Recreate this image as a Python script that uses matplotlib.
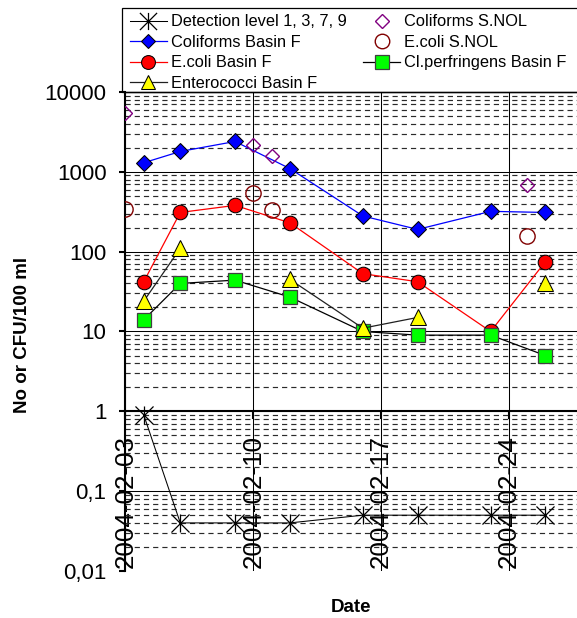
import numpy as np
import matplotlib
matplotlib.use('Agg')
import matplotlib.pyplot as plt
import matplotlib.dates as mdates
from matplotlib.path import Path
from matplotlib.patches import Rectangle
from matplotlib.ticker import FixedLocator, FixedFormatter, LogLocator, NullFormatter

plt.rcParams['font.family'] = ['Liberation Sans', 'DejaVu Sans']

# ---------------- data ----------------
basin_dates = ['2004-02-04', '2004-02-06', '2004-02-09', '2004-02-12',
               '2004-02-16', '2004-02-19', '2004-02-23', '2004-02-26']
detection_level = [0.9, 0.04, 0.04, 0.04, 0.05, 0.05, 0.05, 0.05]
coliforms_basin_f = [1300, 1800, 2400, 1100, 280, 190, 320, 310]
ecoli_basin_f = [42, 310, 380, 230, 53, 42, 10, 75]
enterococci_basin_f = [24, 110, np.nan, 45, 11, 15, np.nan, 40]
clperfringens_basin_f = [14, 40, 44, 27, 10, 9, 9, 5]

snol_dates = ['2004-02-03', '2004-02-10', '2004-02-11', '2004-02-25']
coliforms_snol = [5400, 2200, 1600, 680]
ecoli_snol = [340, 550, 330, 155]

tick_dates = ['2004-02-03', '2004-02-10', '2004-02-17', '2004-02-24']
tick_labels = ['2004-02-03', '2004-02-10', '2004-02-17', '2004-02-24']
ytick_values = [0.01, 0.1, 1, 10, 100, 1000, 10000]
ytick_labels = ['0,01', '0,1', '1', '10', '100', '1000', '10000']

labels = ['Detection level 1, 3, 7, 9', 'Coliforms Basin F', 'E.coli Basin F',
          'Enterococci Basin F', 'Coliforms S.NOL', 'E.coli S.NOL',
          'Cl.perfringens Basin F']

# ---------------- figure ----------------
fig = plt.figure(figsize=(5.77, 6.18), dpi=100)
ax = fig.add_axes([0.2175, 0.0761, 0.7825, 0.775])

xb = mdates.date2num(np.array(basin_dates, dtype='datetime64[D]'))
xs = mdates.date2num(np.array(snol_dates, dtype='datetime64[D]'))
xt = mdates.date2num(np.array(tick_dates, dtype='datetime64[D]'))

star = Path([(-1, -1), (1, 1), (-1, 1), (1, -1), (0, -1), (0, 1)],
            [Path.MOVETO, Path.LINETO, Path.MOVETO, Path.LINETO, Path.MOVETO, Path.LINETO])

h_det, = ax.plot(xb, detection_level, color='black', lw=0.75, marker=star, ms=13,
                 mfc='none', mec='black', mew=0.9, zorder=3)
h_col, = ax.plot(xb, coliforms_basin_f, color='#0000FF', lw=0.9, marker='D', ms=7.8,
                 mfc='#0000FF', mec='black', mew=0.75, zorder=3)
h_eco, = ax.plot(xb, ecoli_basin_f, color='#FF0000', lw=0.9, marker='o', ms=10.5,
                 mfc='#FF0000', mec='black', mew=0.75, zorder=3)
h_cl, = ax.plot(xb, clperfringens_basin_f, color='black', lw=0.9, marker='s', ms=10.5,
                mfc='#00FF00', mec='#404040', mew=0.9, zorder=3)
h_ent, = ax.plot(xb, enterococci_basin_f, color='#202020', lw=0.9, marker='^', ms=11,
                 mfc='#FFFF00', mec='black', mew=0.75, zorder=3)
h_cs, = ax.plot(xs, coliforms_snol, ls='none', marker='D', ms=7.6,
                mfc='none', mec='#800080', mew=1.0, zorder=4)
h_es, = ax.plot(xs, ecoli_snol, ls='none', marker='o', ms=11,
                mfc='none', mec='#800000', mew=1.0, zorder=4)

# ---------------- axes ----------------
ax.set_yscale('log')
ax.set_ylim(0.01, 10000)
ax.set_xlim(xt[0], xt[0] + 24.73)

ax.yaxis.set_major_locator(FixedLocator(ytick_values))
ax.yaxis.set_major_formatter(FixedFormatter(ytick_labels))
ax.yaxis.set_minor_locator(LogLocator(base=10, subs=np.arange(2, 10)))
ax.yaxis.set_minor_formatter(NullFormatter())
ax.tick_params(axis='y', which='major', length=4.3, width=1.5, labelsize=16, pad=9.4, direction='out')
ax.tick_params(axis='y', which='minor', length=0)

ax.xaxis.set_major_locator(FixedLocator(xt))
ax.xaxis.set_major_formatter(FixedFormatter(tick_labels))
ax.tick_params(axis='x', which='major', length=5.8, width=1.5, labelsize=18.7,
               pad=11.5, labelrotation=90, direction='out')
ax.tick_params(axis='x', which='minor', length=0)

ax.set_axisbelow(True)
ax.grid(axis='y', which='minor', color='#2a2a2a', lw=0.85, ls=(0, (4.4, 3.4)))
ax.grid(axis='x', which='major', color='black', lw=0.75)
for v in ytick_values[1:]:
    ax.axhline(v, color='black', lw=0.75, zorder=1)

ax.spines['right'].set_visible(False)
ax.spines['top'].set_linewidth(1.0)
ax.spines['left'].set_linewidth(1.5)
ax.spines['bottom'].set_position(('data', 1))
ax.spines['bottom'].set_linewidth(1.5)

ax.set_ylabel('No or CFU/100 ml', fontsize=13.5, fontweight='bold')
ax.yaxis.set_label_coords(-0.210, 0.493)
ax.set_xlabel('Date', fontsize=13.5, fontweight='bold')
ax.xaxis.set_label_coords(0.5, -0.0595)

# ---------------- legend ----------------
handles = [h_det, h_col, h_eco, h_ent, h_cs, h_es, h_cl]
fig.legend(handles, labels, loc='upper left', bbox_to_anchor=(130 / 577, 1 - 14.5 / 618),
           ncol=2, frameon=False, fontsize=11.8, handlelength=2.25, handletextpad=0.25,
           columnspacing=1.0, labelspacing=0.33, borderpad=0, borderaxespad=0,
           markerscale=0.95)
fig.patches.append(Rectangle((122 / 577, 1 - 92 / 618), (580 - 122) / 577, 84 / 618,
                             transform=fig.transFigure, fill=False, ec='black', lw=0.9))

fig.savefig('out.png', dpi=100)
